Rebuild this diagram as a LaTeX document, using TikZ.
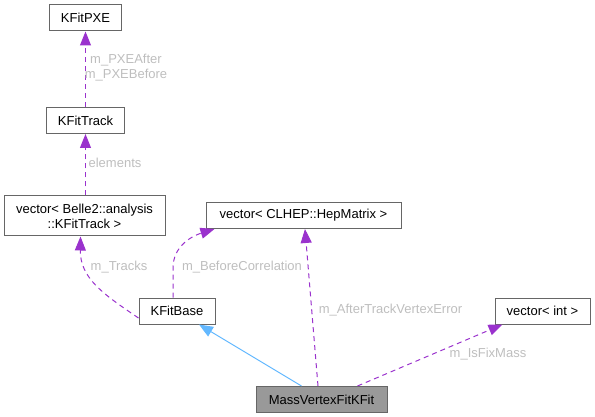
\documentclass[tikz,border=0pt]{standalone}
\usepackage{fontspec}
\setmainfont{Liberation Sans}
\usetikzlibrary{arrows.meta}
\usetikzlibrary{positioning}
\definecolor{BoxGray}{HTML}{666666}
\definecolor{FillGray}{HTML}{999999}
\definecolor{LabelGray}{HTML}{BEBEBE}
\definecolor{DarkOrchid}{HTML}{9A32CD}
\definecolor{SteelBlue}{HTML}{63B8FF}

\begin{document}
\begin{tikzpicture}[x=1pt, y=-1pt,
    every node/.style={font=\fontsize{13}{15}\selectfont},
    box/.style={draw=BoxGray, line width=1pt, rectangle, inner sep=2pt,
      minimum height=26pt},
    usage/.style={DarkOrchid, line width=1pt, dash pattern=on 5pt off 4pt,
      -{Triangle[length=14pt,width=11pt]}},
    inherit/.style={SteelBlue, line width=1pt,
      -{Triangle[length=14pt,width=11pt]}},
    lbl/.style={text=LabelGray, inner sep=0pt, align=center}]
  \useasboundingbox (0,0) rectangle (595,417);

  \node[box, minimum width=72pt] (KFitPXE)   at (85.5,18)    {KFitPXE};
  \node[box, minimum width=78pt] (KFitTrack) at (85.5,120.5) {KFitTrack};
  \node[box, minimum width=161pt, minimum height=40pt, align=center]
    (VecTrack) at (84.5,216) {vector< Belle2::analysis\\::KFitTrack >};
  \node[box, minimum width=195pt] (VecMatrix) at (303.5,215.5)
    {vector< CLHEP::HepMatrix >};
  \node[box, minimum width=76pt]  (KFitBase)  at (177,311)  {KFitBase};
  \node[box, minimum width=95pt]  (VecInt)    at (542.5,311) {vector< int >};
  \node[box, minimum width=131pt, fill=FillGray] (MassVtx) at (321.5,399.5)
    {MassVertexFitKFit};

  % members
  \draw[usage] (KFitTrack) -- (KFitPXE);
  \node[lbl] (PXELbl) at (126,68) {m\_PXEAfter\\m\_PXEBefore};

  \draw[usage] ([xshift=1pt]VecTrack.north) -- (KFitTrack);
  \node[lbl] (ElemLbl) at (115,163) {elements};

  \draw[usage] ([yshift=-7pt]KFitBase.west)
    .. controls (103,294) and (80,278) .. ([xshift=-4pt]VecTrack.south);
  \node[lbl] (TrackLbl) at (119,267) {m\_Tracks};

  \draw[usage] ([xshift=-4pt]KFitBase.north) -- (173,268)
    .. controls (173,246) and (192,236) .. ([xshift=9pt]VecMatrix.south west);
  \node[lbl] (BeforeLbl) at (242,267) {m\_BeforeCorrelation};

  \draw[usage] ([xshift=-3.5pt]MassVtx.north) -- ([xshift=1.5pt]VecMatrix.south);
  \node[lbl] (AfterLbl) at (390.5,310) {m\_AfterTrackVertexError};

  \draw[usage] ([xshift=36pt]MassVtx.north) -- ([xshift=8pt]VecInt.south west);
  \node[lbl] (FixLbl) at (488,354) {m\_IsFixMass};

  % base class
  \draw[inherit] ([xshift=-20pt]MassVtx.north) -- ([xshift=22pt]KFitBase.south);
\end{tikzpicture}
\end{document}
